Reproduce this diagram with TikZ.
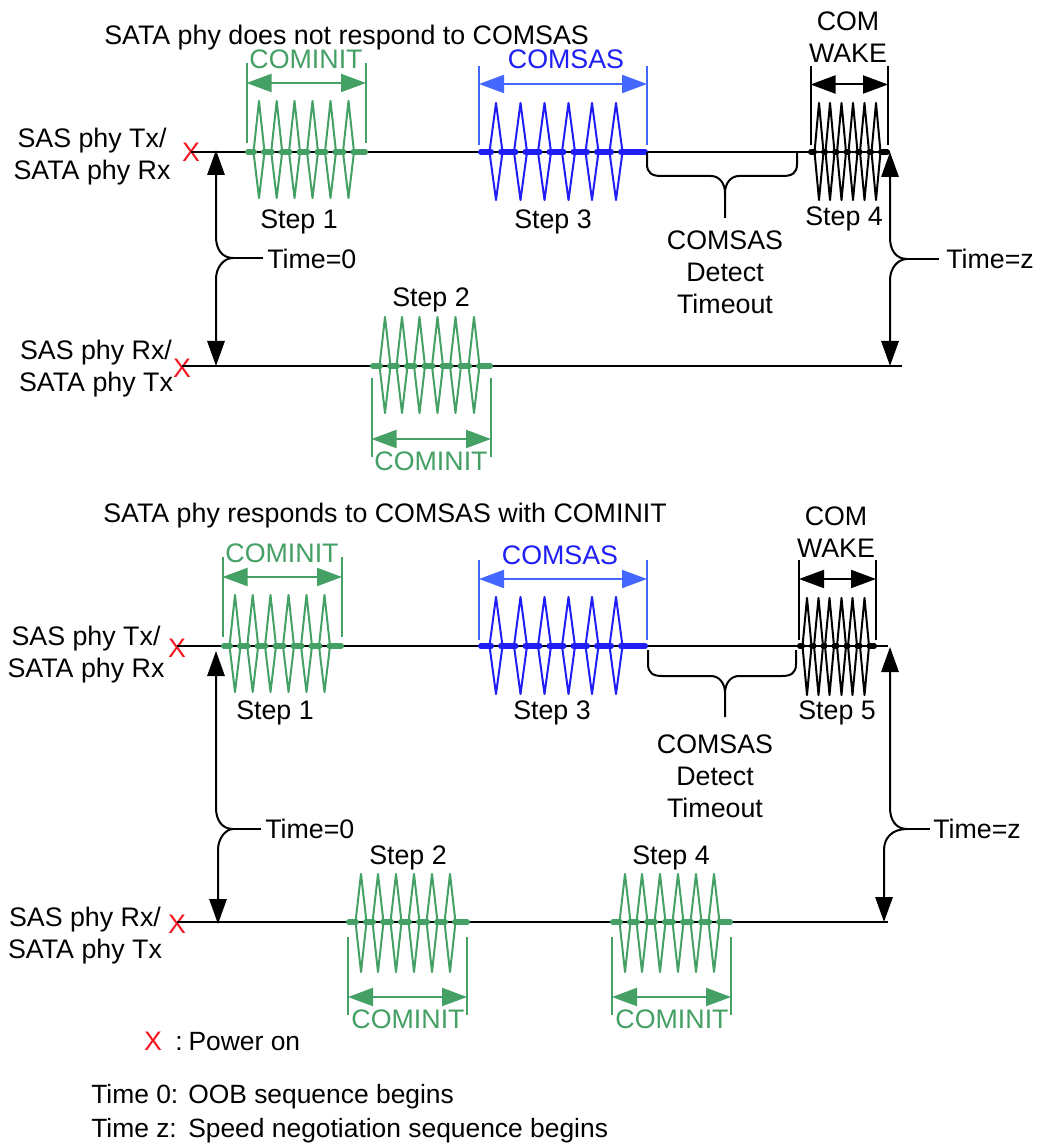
\documentclass[tikz,border=0pt]{standalone}
\usepackage{fontspec}
\setmainfont{Liberation Sans}
\usetikzlibrary{arrows.meta}
\definecolor{cgreen}{HTML}{45A065}
\definecolor{cblue}{HTML}{1E1EF5}
\definecolor{cbluelight}{HTML}{4468FF}
\definecolor{cred}{HTML}{F5141E}
\tikzset{
  lbl/.style={font=\fontsize{20.1}{24}\selectfont,inner sep=0pt,align=center},
  lblleft/.style={lbl,anchor=west},
  legendtxt/.style={lblleft,font=\fontsize{19.8}{24}\selectfont},
  redx/.style={font=\fontsize{20.1}{24}\selectfont,text=cred,inner sep=0pt},
  wire/.style={line width=1.2pt,draw=black},
  zig/.style={line width=1.5pt,line join=round},
  bar/.style={line width=4.2pt,line cap=round},
  span/.style={line width=1.5pt},
  dbl/.style={line width=1.5pt,{Triangle[length=18.75pt,width=13.5pt]}-{Triangle[length=18.75pt,width=13.5pt]}},
  lead/.style={line width=1.5pt,-{Triangle[length=18.75pt,width=13pt]}},
  curvy/.style={line width=1.5pt}
}
% colour, y, x start, x end, peak list, last peak, half width of a diamond, top, bottom
\newcommand{\pulsetrain}[9]{%
  \foreach \pk in {#5}{
    \draw[zig,draw=#1] (\pk-#7,#2) -- (\pk,#8) -- (\pk+#7,#2) -- (\pk,#9) -- cycle;
  }
  \foreach \pk [remember=\pk as \prv (initially #3-2)] in {#5}{
    \draw[bar,draw=#1] (\prv+4.8,#2) -- (\pk-4.8,#2);
  }
  \draw[bar,draw=#1] (#6+4.8,#2) -- (#4-2.8,#2);
}
% name, bracket colour, x left, x right, y top, y bottom, y arrow
\newcommand{\widthspan}[7]{%
  \coordinate (#1-l) at (#3,#7);
  \coordinate (#1-r) at (#4,#7);
  \draw[span,draw=#2] (#3,#5) -- (#3,#6);
  \draw[span,draw=#2] (#4,#5) -- (#4,#6);
  \draw[dbl,draw=#2,fill=#2] (#1-l) -- (#1-r);
}
% name, x left, x right, y line, y horizontal, x centre, y stem end
\newcommand{\timeoutbrace}[7]{%
  \coordinate (#1-a) at (#2,#4);
  \coordinate (#1-b) at (#3,#4);
  \coordinate (#1-c) at (#6,#7);
  \draw[curvy] (#1-a) -- (#2,#5-12) .. controls (#2,#5-3) and (#2+5,#5) .. (#2+14,#5)
    -- (#6-14,#5) .. controls (#6-6,#5) and (#6,#5+7) .. (#6,#5+17) -- (#1-c);
  \draw[curvy] (#1-b) -- (#3,#5-12) .. controls (#3,#5-3) and (#3-5,#5) .. (#3-14,#5)
    -- (#6+14,#5) .. controls (#6+6,#5) and (#6,#5+7) .. (#6,#5+17);
}
% name, x upper, x lower, y tip up, y tip down, y branch, x horizontal end
\newcommand{\timefork}[7]{%
  \coordinate (#1-up) at (#2,#4);
  \coordinate (#1-dn) at (#3,#5);
  \coordinate (#1-end) at (#7,#6);
  \coordinate (#1-mid) at (#2+17,#6);
  \draw[lead] (#1-mid) .. controls (#2+6,#6) and (#2,#6-9) .. (#2,#6-21) -- (#1-up);
  \draw[lead] (#1-mid) .. controls (#3+8,#6) and (#3,#6+9) .. (#3,#6+21) -- (#1-dn);
  \draw[curvy] (#1-mid) -- (#1-end);
}
\begin{document}
\begin{tikzpicture}[x=0.75pt,y=-0.75pt]
\useasboundingbox (0,0) rectangle (1039,1144);
\fill[white] (0,0) rectangle (1039,1144);

% ---------- upper diagram ----------
\node[lblleft] (title1) at (104,38) {SATA phy does not respond to COMSAS};
\node[lbl] (tx1) at (92,157) {SAS phy Tx/\\SATA phy Rx};
\node[lbl] (rx1) at (96,369) {SAS phy Rx/\\SATA phy Tx};
\node[redx] (x1) at (191,152) {X};
\node[redx] (x2) at (182,368) {X};
\coordinate (e1) at (890,152);
\coordinate (e2) at (902,366);
\draw[wire] (x1.center |- e1) -- (e1);
\draw[wire] (x2.center |- e2) -- (e2);

\pulsetrain{cgreen}{152}{245}{368}{259,276.7,294.5,312.5,330.5,348.5}{348.5}{5.5}{101}{198}
\pulsetrain{cblue}{152}{478}{648}{496,520.5,544.5,568.5,592,616}{616}{6.5}{103}{200}
\pulsetrain{black}{152}{808}{890}{819,830,841.5,853,864.5,876}{876}{4.5}{103}{200}
\pulsetrain{cgreen}{366}{370}{493}{385,402,419.5,437.5,455.5,474}{474}{5.5}{317}{413}

\widthspan{s1}{cgreen}{246.5}{366}{63}{143}{83}
\widthspan{s2}{cbluelight}{479}{647}{66}{145}{84}
\widthspan{s3}{black}{810.5}{888}{66}{145}{84.5}
\widthspan{s4}{cgreen}{371.5}{491}{378}{457}{439}

\node[lbl,text=cgreen] (c1) at (306,59) {COMINIT};
\node[lbl,text=cblue] (c2) at (566,59) {COMSAS};
\node[lbl] (w1) at (848,37) {COM\\WAKE};
\node[lbl,text=cgreen] (c3) at (431,461) {COMINIT};
\node[lbl] (st1) at (299,222) {Step 1};
\node[lbl] (st3) at (553,222) {Step 3};
\node[lbl] (st4) at (844,219) {Step 4};
\node[lbl] (st2) at (431,300) {Step 2};
\timeoutbrace{b1}{647}{797}{152}{176}{725}{218}
\node[lbl] (to1) at (725,272) {COMSAS\\Detect\\Timeout};
\timefork{f1}{216}{216}{150}{366}{258}{263}
\node[lblleft] (t0a) at (267,259) {Time=0};
\timefork{f2}{890}{890}{152}{366}{259}{939}
\node[lblleft] (tza) at (946,259) {Time=z};

% ---------- lower diagram ----------
\node[lblleft] (title2) at (103,516) {SATA phy responds to COMSAS with COMINIT};
\node[lbl] (tx2) at (86,655) {SAS phy Tx/\\SATA phy Rx};
\node[lbl] (rx2) at (85,936) {SAS phy Rx/\\SATA phy Tx};
\node[redx] (x3) at (177,648) {X};
\node[redx] (x4) at (177,924) {X};
\coordinate (e3) at (888,646);
\coordinate (e4) at (888,922);
\draw[wire] (x3.center |- e3) -- (e3);
\draw[wire] (x4.center |- e4) -- (e4);

\pulsetrain{cgreen}{646}{221}{344}{235,252.7,270.5,288.5,306.5,324.5}{324.5}{5.5}{595}{692}
\pulsetrain{cblue}{646}{478}{648}{496,520.5,544.5,568.5,592,616}{616}{6.5}{597}{694}
\pulsetrain{black}{646}{797}{877}{807,818.5,829.5,841.5,852.5,864.5}{864.5}{4.5}{598}{695}
\pulsetrain{cgreen}{922}{346}{470}{361,378,396,414,432,450}{450}{5.5}{874}{972}
\pulsetrain{cgreen}{922}{610}{733}{625,642,660,678,696,714}{714}{5.5}{874}{972}

\widthspan{s5}{cgreen}{222.5}{342}{557}{637}{577}
\widthspan{s6}{cbluelight}{479}{647}{560}{640}{579}
\widthspan{s7}{black}{799}{876}{560}{640}{579}
\widthspan{s8}{cgreen}{348}{467}{937}{1015}{997}
\widthspan{s9}{cgreen}{612}{731}{937}{1015}{997}

\node[lbl,text=cgreen] (c4) at (282,553) {COMINIT};
\node[lbl,text=cblue] (c5) at (560,555) {COMSAS};
\node[lbl] (w2) at (836,532) {COM\\WAKE};
\node[lbl,text=cgreen] (c6) at (408,1019) {COMINIT};
\node[lbl,text=cgreen] (c7) at (672,1019) {COMINIT};
\node[lbl] (st5) at (275,713) {Step 1};
\node[lbl] (st6) at (552,713) {Step 3};
\node[lbl] (st7) at (837,713) {Step 5};
\node[lbl] (st8) at (408,858) {Step 2};
\node[lbl] (st9) at (671,858) {Step 4};
\timeoutbrace{b2}{648}{796}{650}{676}{725}{717}
\node[lbl] (to2) at (715,776) {COMSAS\\Detect\\Timeout};
\timefork{f3}{216}{218}{651}{924}{829}{261}
\node[lblleft] (t0b) at (265,829) {Time=0};
\timefork{f4}{890}{884}{647}{922}{829}{930}
\node[lblleft] (tzb) at (933,829) {Time=z};

% ---------- legend ----------
\node[redx] (xk) at (153,1041) {X};
\node[legendtxt] (k1) at (175,1042) {:\kern-1pt\ Power on};
\node[legendtxt] (k2) at (91,1097) {\hbox to 72.75pt{Time 0:\hfil}OOB sequence begins};
\node[legendtxt] (k3) at (91,1131) {\hbox to 72.75pt{Time z:\hfil}Speed negotiation sequence begins};
\end{tikzpicture}
\end{document}
